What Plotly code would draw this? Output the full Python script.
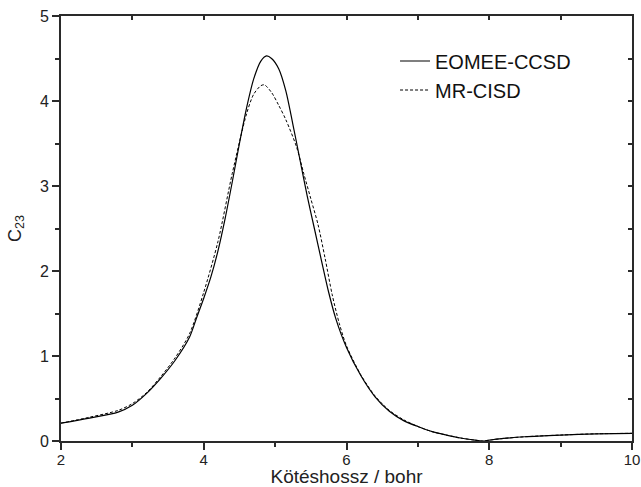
import plotly.graph_objects as go

# EOMEE-CCSD (solid)
x_eom = [2.0, 2.4, 2.8, 3.0, 3.2, 3.4, 3.6, 3.8, 3.9, 4.0, 4.1, 4.2, 4.3, 4.4, 4.5, 4.6, 4.7,
         4.8, 4.88, 4.95, 5.05, 5.15, 5.25, 5.35, 5.45, 5.55, 5.65, 5.75, 5.85, 6.0, 6.2, 6.4,
         6.6, 6.8, 7.0, 7.2, 7.4, 7.6, 7.8, 7.9, 8.0, 8.2, 8.5, 9.0, 9.5, 10.0]
y_eom = [0.21, 0.27, 0.34, 0.42, 0.56, 0.74, 0.95, 1.22, 1.45, 1.68, 1.93, 2.24, 2.62, 3.05, 3.5,
         3.92, 4.26, 4.47, 4.53, 4.50, 4.38, 4.12, 3.72, 3.30, 2.88, 2.5, 2.12, 1.75, 1.44, 1.10,
         0.77, 0.52, 0.35, 0.24, 0.17, 0.11, 0.07, 0.035, 0.01, 0.0, 0.01, 0.03, 0.05, 0.07, 0.085, 0.09]

# MR-CISD (dashed)
x_mr = [2.0, 2.4, 2.8, 3.0, 3.2, 3.4, 3.6, 3.8, 4.0, 4.2, 4.4, 4.6, 4.7, 4.8, 4.85, 4.95, 5.05,
        5.15, 5.3, 5.4, 5.5, 5.6, 5.7, 5.8, 5.9, 6.0, 6.2, 6.4, 6.6, 6.8, 7.0, 7.2, 7.4, 7.6,
        7.8, 7.9, 8.0, 8.2, 8.5, 9.0, 9.5, 10.0]
y_mr = [0.21, 0.28, 0.36, 0.44, 0.57, 0.76, 0.98, 1.26, 1.75, 2.35, 3.15, 3.85, 4.08, 4.18,
        4.19, 4.10, 3.95, 3.78, 3.46, 3.15, 2.85, 2.55, 2.15, 1.72, 1.38, 1.12, 0.78, 0.53, 0.36,
        0.25, 0.17, 0.11, 0.07, 0.035, 0.01, 0.0, 0.01, 0.03, 0.05, 0.07, 0.085, 0.09]

x_major = [2, 4, 6, 8, 10]
x_minor = [3, 5, 7, 9]
y_major = [0, 1, 2, 3, 4, 5]
y_minor = [0.5, 1.5, 2.5, 3.5, 4.5]

axis_color = "#2a2a2a"
font_family = "Liberation Sans"

fig = go.Figure()
fig.add_trace(go.Scatter(x=x_eom, y=y_eom, mode="lines", name="EOMEE-CCSD",
                         line=dict(color="black", width=1.2, shape="spline", smoothing=0.8)))
fig.add_trace(go.Scatter(x=x_mr, y=y_mr, mode="lines", name="MR-CISD",
                         line=dict(color="black", width=1, dash="3px,2px", shape="spline", smoothing=0.8)))
fig.add_trace(go.Scatter(x=[2, 10], y=[0, 5], xaxis="x2", yaxis="y2", mode="markers",
                         marker=dict(opacity=0), showlegend=False, hoverinfo="skip"))

common = dict(showline=True, linecolor=axis_color, linewidth=2, tickcolor=axis_color,
              tickwidth=1.5, showgrid=False, zeroline=False, automargin=False)

fig.update_layout(
    width=641, height=487,
    margin=dict(l=61, r=9, t=16, b=46),
    paper_bgcolor="white", plot_bgcolor="white",
    font=dict(family=font_family, size=16, color="#222222"),
    showlegend=True,
    legend=dict(x=0.585, y=0.94, xanchor="left", yanchor="top",
                bgcolor="rgba(0,0,0,0)", font=dict(size=20, color="#111111"),
                tracegroupgap=0),
    xaxis=dict(range=[2, 10], tickmode="array", tickvals=x_major,
               ticks="outside", ticklen=7, layer="above traces", ticklabelstandoff=-3,
               minor=dict(tickmode="array", tickvals=x_minor, ticks="outside", ticklen=4,
                          tickwidth=1.5, tickcolor=axis_color, showgrid=False),
               title=dict(text="Kötéshossz / bohr", font=dict(size=19), standoff=0),
               tickfont=dict(size=15), **common),
    yaxis=dict(range=[0, 5], tickmode="array", tickvals=y_major,
               ticks="outside", ticklen=7, layer="above traces",
               minor=dict(tickmode="array", tickvals=y_minor, ticks="outside", ticklen=4,
                          tickwidth=1.5, tickcolor=axis_color, showgrid=False),
               title=dict(text="C<sub>23</sub>", font=dict(size=18), standoff=14),
               tickfont=dict(size=16), **common),
    xaxis2=dict(range=[2, 10], overlaying="x", side="top", ticks="inside", ticklen=4,
                tickmode="array", tickvals=x_major[1:-1] + x_minor, showticklabels=False,
                **common),
    yaxis2=dict(range=[0, 5], overlaying="y", side="right", ticks="inside", ticklen=4,
                tickmode="array", tickvals=y_major[1:-1] + y_minor,
                showticklabels=False, **common),
)

fig.write_html("out.html", config={"displayModeBar": False},
               post_script="document.body.style.margin='0';document.documentElement.style.overflow='hidden';")
